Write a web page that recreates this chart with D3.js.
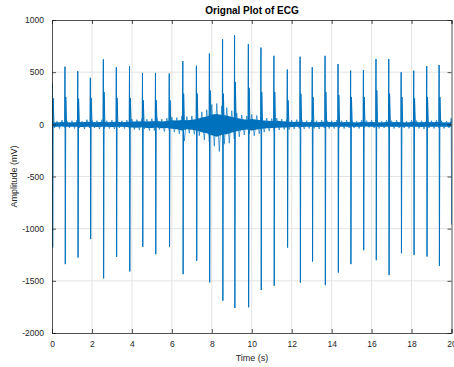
<!DOCTYPE html>
<html>
<head>
<meta charset="utf-8">
<script src="https://cdn.jsdelivr.net/npm/d3@7"></script>
<style>
  html, body { margin: 0; padding: 0; background: #fff; }
  svg { display: block; font-family: "Liberation Sans", Arial, Helvetica, sans-serif; }
</style>
</head>
<body>
<svg id="chart" width="454" height="367"></svg>
<script>
// ---- data ----
const beatTimes = [0.02,0.65,1.29,1.92,2.57,3.22,3.88,4.53,5.18,5.87,6.55,7.23,7.88,8.54,9.14,9.83,10.46,11.11,11.78,12.42,13.03,13.67,14.32,14.95,15.59,16.22,16.86,17.48,18.11,18.76,19.38,19.99];
const rPeaks    = [400,553,509,446,623,547,556,493,493,487,607,562,679,815,853,768,736,657,525,648,547,657,578,515,521,626,626,499,515,559,569,60];
const sTroughs  = [-1181,-1340,-1277,-1100,-1477,-1270,-1410,-1175,-1245,-1172,-1436,-1308,-1515,-1690,-1760,-1754,-1588,-1547,-1181,-1518,-1315,-1541,-1420,-1340,-1207,-1302,-1445,-1235,-1251,-1267,-1356,-960];
const afterBumps= [250,262,246,253,310,253,253,230,230,230,294,294,325,294,404,350,310,310,230,294,262,310,280,262,262,326,294,262,250,262,262,0];

// baseline noise, every 0.25 s from 0 to 20 s
const noiseTimes = d3.range(81).map(i => i * 0.25);
// outer extremes (spiky excursions)
const noiseHi = [35,30,40,30, 35,40,30,45, 40,35,45,35, 40,45,35,40, 50,45,55,50,
                 55,60,50,60, 70,65,80,75, 80,95,120,140, 190,200,175,160, 130,110,90,80,
                 95,85,70,60, 55,60,50,45, 40,45,40,35, 40,35,40,45, 35,40,35,40,
                 35,30,40,35, 40,35,30,40, 35,40,35,30, 40,35,35,40, 35,40,35,30, 35];
const noiseLo = [-35,-40,-30,-35, -40,-35,-45,-35, -35,-45,-40,-40, -45,-35,-40,-45, -50,-55,-45,-60,
                 -60,-50,-70,-60, -75,-90,-160,-85, -95,-110,-150,-170, -210,-260,-190,-180, -140,-120,-100,-90,
                 -110,-90,-75,-65, -60,-55,-50,-50, -45,-40,-45,-40, -40,-45,-35,-40, -40,-35,-40,-35,
                 -35,-40,-35,-30, -35,-40,-35,-40, -40,-35,-35,-40, -35,-40,-45,-35, -40,-35,-40,-35, -35];
// dense core of the band
const coreHi  = [20,18,22,20, 18,22,20,24, 22,20,24,20, 22,24,20,22, 28,26,30,28,
                 30,32,28,32, 38,36,42,40, 45,50,65,75, 95,100,90,85, 70,60,50,45,
                 50,45,38,35, 32,34,30,28, 22,24,22,20, 22,20,22,24, 20,22,20,22,
                 20,18,22,20, 22,20,18,22, 20,22,20,18, 22,20,20,22, 20,22,20,18, 20];
const coreLo  = [-22,-24,-20,-22, -24,-22,-26,-22, -22,-26,-24,-24, -26,-22,-24,-26, -30,-32,-28,-34,
                 -34,-30,-38,-34, -42,-48,-60,-46, -52,-60,-75,-85, -105,-120,-100,-95, -78,-66,-56,-50,
                 -58,-50,-42,-38, -34,-32,-30,-30, -26,-24,-26,-24, -24,-26,-22,-24, -24,-22,-24,-22,
                 -22,-24,-22,-20, -22,-24,-22,-24, -24,-22,-22,-24, -22,-24,-26,-22, -24,-22,-24,-22, -22];

const xTicks = [0,2,4,6,8,10,12,14,16,18,20];
const yTicks = [-2000,-1500,-1000,-500,0,500,1000];

const titleText = "Orignal Plot of ECG";
const xLabel = "Time (s)";
const yLabel = "Amplitude (mV)";

// ---- layout ----
const L = 52, R = 451.5, T = 20, B = 333;
const lineColor = "#0072BD";
const svg = d3.select("#chart");

const x = d3.scaleLinear().domain([0, 20]).range([L, R]);
const y = d3.scaleLinear().domain([-2000, 1000]).range([B, T]);

// grid
const grid = svg.append("g");
grid.selectAll("line.vx").data(xTicks.slice(1, -1)).join("line")
  .attr("x1", d => x(d)).attr("x2", d => x(d)).attr("y1", T).attr("y2", B)
  .attr("stroke", "#e3e3e3").attr("stroke-width", 1);
grid.selectAll("line.hy").data(yTicks.slice(1, -1)).join("line")
  .attr("x1", L).attr("x2", R).attr("y1", d => y(d)).attr("y2", d => y(d))
  .attr("stroke", "#e3e3e3").attr("stroke-width", 1);

// clip
svg.append("clipPath").attr("id", "clip").append("rect")
  .attr("x", L).attr("y", T).attr("width", R - L).attr("height", B - T);
const plot = svg.append("g").attr("clip-path", "url(#clip)");

// dense core of the noise band
const core = noiseTimes.map((t, i) => ({t, hi: coreHi[i], lo: coreLo[i]}));
plot.append("path")
  .datum(core)
  .attr("d", d3.area().x(d => x(d.t)).y0(d => y(d.lo)).y1(d => y(d.hi)))
  .attr("fill", lineColor).attr("stroke", "none");

// noise excursions: jagged line through the read extremes
const noisePts = [];
noiseTimes.forEach((t, i) => {
  noisePts.push([t, noiseHi[i]]);
  noisePts.push([t + 0.125, noiseLo[i]]);
});
plot.append("path")
  .datum(noisePts)
  .attr("d", d3.line().x(d => x(d[0])).y(d => y(d[1])))
  .attr("fill", "none").attr("stroke", lineColor).attr("stroke-width", 0.8)
  .attr("stroke-opacity", 0.85);

// beats
const pts = [];
beatTimes.forEach((t, i) => {
  pts.push([t - 0.015, 0]);
  pts.push([t, rPeaks[i]]);
  pts.push([t + 0.015, sTroughs[i]]);
  pts.push([t + 0.04, afterBumps[i]]);
  pts.push([t + 0.08, 0]);
});
plot.append("path")
  .datum(pts)
  .attr("d", d3.line().x(d => x(d[0])).y(d => y(d[1])))
  .attr("fill", "none").attr("stroke", lineColor).attr("stroke-width", 1)
  .attr("stroke-linejoin", "round");

// axes
const axisColor = "#262626";
const fs = "8.5px";
const fmt = d => String(d);
const xAxis = svg.append("g").attr("transform", `translate(0,${B})`)
  .call(d3.axisBottom(x).tickValues(xTicks).tickSize(-4).tickPadding(8).tickFormat(fmt));
const xTop = svg.append("g").attr("transform", `translate(0,${T})`)
  .call(d3.axisTop(x).tickValues(xTicks).tickSize(-4).tickFormat(""));
const yAxis = svg.append("g").attr("transform", `translate(${L},0)`)
  .call(d3.axisLeft(y).tickValues(yTicks).tickSize(-4).tickPadding(8).tickFormat(fmt));
const yRight = svg.append("g").attr("transform", `translate(${R},0)`)
  .call(d3.axisRight(y).tickValues(yTicks).tickSize(-4).tickFormat(""));
[xAxis, xTop, yAxis, yRight].forEach(g => {
  g.selectAll("path").attr("stroke", axisColor).attr("stroke-width", 0.8);
  g.selectAll("line").attr("stroke", axisColor).attr("stroke-width", 0.8);
  g.selectAll("text").attr("fill", axisColor).style("font-size", fs)
    .style("font-family", '"Liberation Sans", Arial, sans-serif');
});

// titles
svg.append("text").attr("x", 252).attr("y", 14).attr("text-anchor", "middle")
  .style("font-size", "10px").style("font-weight", "bold").attr("fill", "#000")
  .text(titleText);
svg.append("text").attr("x", 252).attr("y", 361).attr("text-anchor", "middle")
  .style("font-size", "9px").attr("fill", axisColor).text(xLabel);
svg.append("text").attr("transform", `translate(17,${(T + B) / 2}) rotate(-90)`)
  .attr("text-anchor", "middle").style("font-size", "9px").attr("fill", axisColor).text(yLabel);
</script>
</body>
</html>
